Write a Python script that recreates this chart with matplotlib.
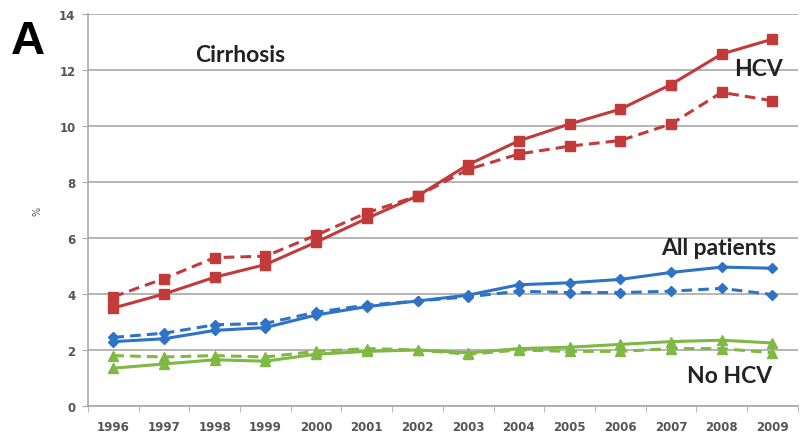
import matplotlib.pyplot as plt
import numpy as np

YEARS = list(range(1996, 2010))

# cirrhosis prevalence (%), solid = observed, dashed = comparison series
HCV_SOLID = [3.5, 4.0, 4.6, 5.05, 5.85, 6.7, 7.5, 8.62, 9.47, 10.07, 10.6, 11.48, 12.57, 13.1]
HCV_DASH = [3.9, 4.55, 5.3, 5.35, 6.1, 6.9, 7.5, 8.45, 9.0, 9.28, 9.48, 10.07, 11.2, 10.9]
ALL_SOLID = [2.3, 2.4, 2.7, 2.8, 3.25, 3.55, 3.75, 3.96, 4.33, 4.4, 4.52, 4.77, 4.96, 4.92]
ALL_DASH = [2.45, 2.6, 2.9, 2.95, 3.35, 3.6, 3.75, 3.9, 4.1, 4.05, 4.05, 4.1, 4.2, 3.98]
NOHCV_SOLID = [1.35, 1.5, 1.65, 1.6, 1.85, 1.95, 2.0, 1.9, 2.05, 2.1, 2.2, 2.3, 2.35, 2.25]
NOHCV_DASH = [1.8, 1.75, 1.8, 1.75, 1.95, 2.05, 2.0, 1.85, 2.0, 1.95, 1.95, 2.05, 2.05, 1.9]

RED = "#c23a3a"
BLUE = "#2f73c4"
GREEN = "#7fb842"
GRID = "#a8a8a8"
LABEL_FONT = "Lato"

fig = plt.figure(figsize=(8.02, 4.39), dpi=100)
ax = fig.add_axes([0.1097, 0.0729, 0.885, 0.893])

x = np.arange(len(YEARS))
series = [
    (HCV_SOLID, HCV_DASH, RED, "s", 6.5),
    (ALL_SOLID, ALL_DASH, BLUE, "D", 5.5),
    (NOHCV_SOLID, NOHCV_DASH, GREEN, "^", 7),
]
for solid, dash, color, marker, ms in series:
    ax.plot(x, dash, color=color, lw=2.2, ls=(0, (3.5, 2)), marker=marker,
            ms=ms, zorder=3)
    ax.plot(x, solid, color=color, lw=2.2, marker=marker, ms=ms, zorder=4)

ax.set_xlim(-0.5, len(YEARS) - 0.5)
ax.set_ylim(0, 14)
ax.set_yticks(range(0, 15, 2))
ax.set_xticks(x)
ax.set_xticklabels(YEARS)
ax.set_xticks(np.arange(-0.5, len(YEARS)), minor=True)
ax.tick_params(axis="x", which="major", length=0, pad=10, labelsize=8.5,
               labelcolor="#555555")
ax.tick_params(axis="x", which="minor", length=4, color=GRID, direction="out")
ax.tick_params(axis="y", length=4, color=GRID, labelsize=8.5,
               labelcolor="#555555", pad=5)
for lab in ax.get_xticklabels() + ax.get_yticklabels():
    lab.set_fontweight("bold")

ax.grid(axis="y", color=GRID, lw=1.2)
ax.set_axisbelow(True)
for side in ("top", "right"):
    ax.spines[side].set_visible(False)
for side in ("left", "bottom"):
    ax.spines[side].set_color(GRID)
    ax.spines[side].set_linewidth(1.2)

ax.set_ylabel("%", fontsize=7, color="#555555", labelpad=12)

fig.text(0.014, 0.905, "A", fontsize=34, fontweight="bold", ha="left",
         va="center", family="Liberation Sans")
label_style = dict(fontsize=16.5, fontweight="bold", va="center",
                   color="#222222", family=LABEL_FONT)
ax.text(2.5, 12.55, "Cirrhosis", ha="center", **label_style)
ax.text(12.72, 12.05, "HCV", ha="center", **label_style)
ax.text(13.08, 5.65, "All patients", ha="right", **label_style)
ax.text(12.15, 1.08, "No HCV", ha="center", **label_style)

fig.savefig("out.png", dpi=100)
